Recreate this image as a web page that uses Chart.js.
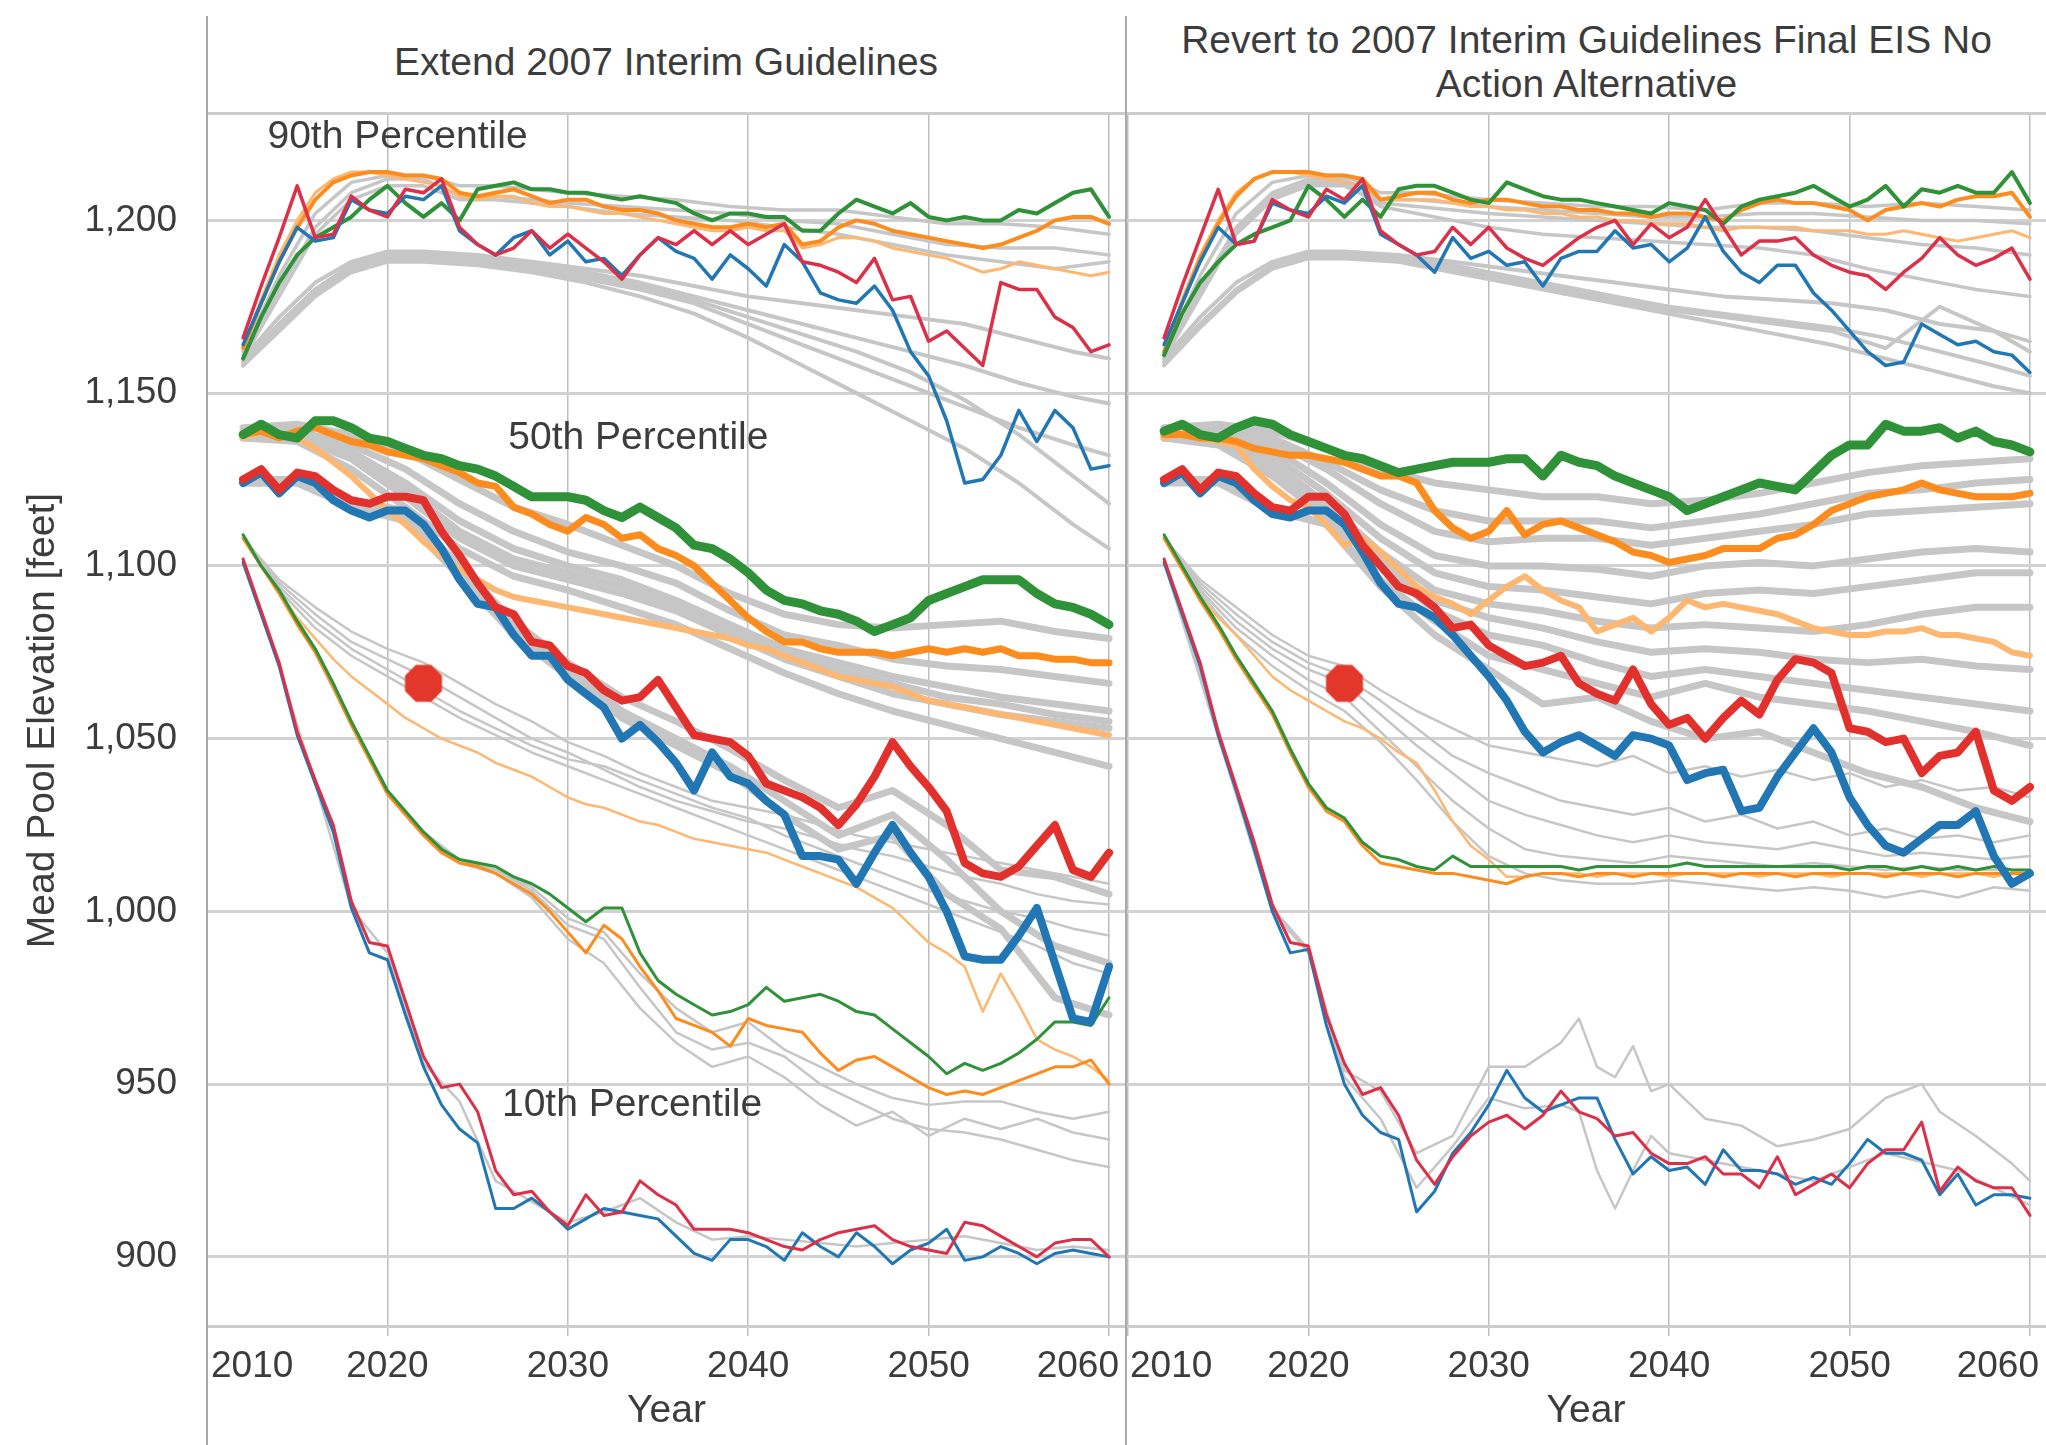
<!DOCTYPE html>
<html>
<head>
<meta charset="utf-8">
<title>Mead Pool Elevation</title>
<script src="https://cdn.jsdelivr.net/npm/chart.js@4.4.1/dist/chart.umd.min.js"></script>
<style>
    body { margin: 0; background: #fff; font-family: "Liberation Sans", Arial, Helvetica, sans-serif; }
    #wrap { position: relative; width: 2046px; height: 1445px; overflow: hidden; background: #fff; }
    canvas { position: absolute; }
    .vline { position: absolute; top: 16px; bottom: 0; width: 2px; background: #a9a9a9; }
    .hline { position: absolute; height: 3px; background: #cdcdcd; }
    .head { position: absolute; top: 12px; height: 100px; display: flex; align-items: center; justify-content: center;
            text-align: center; font-size: 39px; line-height: 44px; color: #3c3c3c; }
</style>
</head>
<body>
<div id="wrap">
    <canvas id="extendChart" width="1126" height="1330" style="left:0;top:115px"></canvas>
    <canvas id="revertChart" width="920" height="1330" style="left:1126px;top:115px"></canvas>
    <div class="head" style="left:207px;width:918px">Extend 2007 Interim Guidelines</div>
    <div class="head" style="left:1127px;width:919px">Revert to 2007 Interim Guidelines Final EIS No<br>Action Alternative</div>
    <div class="hline" style="left:206px;right:0;top:112px"></div>
    <div class="vline" style="left:206px"></div>
    <div class="vline" style="left:1125px"></div>
</div>

<script>
// ---------- axes ----------
const xTicks = [2010, 2020, 2030, 2040, 2050, 2060];
const yTicks = [900, 950, 1000, 1050, 1100, 1150, 1200];

// yearly series run 2012..2060
const years = [2012, 2013, 2014, 2015, 2016, 2017, 2018, 2019, 2020, 2021,
               2022, 2023, 2024, 2025, 2026, 2027, 2028, 2029, 2030, 2031,
               2032, 2033, 2034, 2035, 2036, 2037, 2038, 2039, 2040, 2041,
               2042, 2043, 2044, 2045, 2046, 2047, 2048, 2049, 2050, 2051,
               2052, 2053, 2054, 2055, 2056, 2057, 2058, 2059, 2060];

// gray trace sample years
const grayYears90a = [2012, 2014, 2016, 2018, 2020, 2022, 2024, 2026, 2028, 2030, 2033, 2036, 2039, 2042, 2045, 2048, 2051, 2054, 2057, 2060];
const grayYears90b = [2012, 2014, 2016, 2018, 2020, 2022, 2025, 2028, 2031, 2034, 2037, 2040, 2043, 2046, 2049, 2052, 2055, 2058, 2060];
const grayYears50 = [2012, 2015, 2018, 2021, 2024, 2027, 2030, 2033, 2036, 2039, 2042, 2045, 2048, 2051, 2054, 2057, 2060];
const grayYears10 = [2012, 2014, 2016, 2018, 2020, 2022, 2024, 2026, 2028, 2030, 2032, 2034, 2036, 2038, 2040, 2042, 2044, 2046, 2048, 2050, 2052, 2054, 2056, 2058, 2060];
const grayYearsLowA = [2012, 2016, 2018, 2020, 2022, 2024, 2026, 2028, 2030, 2032, 2034, 2035, 2036, 2037, 2038, 2039, 2040, 2042, 2044, 2046, 2048, 2050, 2052, 2054, 2055, 2057, 2059, 2060];
const grayYearsLowB = [2012, 2018, 2020, 2022, 2024, 2026, 2028, 2030, 2032, 2034, 2035, 2036, 2037, 2038, 2039, 2040, 2044, 2048, 2052, 2056, 2060];

// marker (both panels)
const markerYear = [2022];
const markerValue = [1066];

// ---------- Extend 2007 Interim Guidelines ----------
const ext90Green = [1160,1172,1182,1190,1195,1198,1201,1206,1210,1205, 1201,1205,1200,1209,1210,1211,1209,1209,1208,1208,
                    1207,1206,1207,1206,1205,1202,1200,1202,1202,1201, 1201,1197,1197,1202,1206,1204,1202,1205,1201,1200,
                    1201,1200,1200,1203,1202,1205,1208,1209,1201];
const ext90Orange = [1163,1176,1188,1198,1206,1211,1213,1214,1214,1213, 1213,1212,1208,1207,1208,1209,1207,1205,1206,1206,
                     1204,1203,1203,1202,1200,1199,1198,1198,1199,1198, 1199,1193,1194,1198,1200,1199,1197,1196,1195,1194,
                     1193,1192,1193,1195,1197,1200,1201,1201,1199];
const ext90LtOrange = [1163,1177,1190,1200,1208,1212,1214,1214,1213,1212, 1211,1210,1207,1206,1207,1207,1205,1204,1204,1203,
                       1202,1202,1201,1200,1199,1198,1197,1197,1198,1197, 1197,1192,1193,1195,1195,1194,1192,1191,1190,1189,
                       1187,1185,1186,1188,1187,1186,1185,1184,1185];
const ext90Red = [1166,1181,1195,1210,1195,1196,1207,1203,1201,1209, 1208,1212,1198,1193,1190,1192,1197,1192,1196,1192,
                  1188,1183,1190,1195,1193,1197,1193,1197,1193,1196, 1199,1188,1187,1185,1182,1189,1177,1178,1165,1168,
                  1163,1158,1182,1180,1180,1172,1169,1162,1164];
const ext90Blue = [1164,1176,1188,1198,1194,1195,1206,1203,1202,1207, 1206,1210,1197,1193,1190,1195,1197,1190,1194,1188,
                   1189,1184,1190,1195,1191,1189,1183,1190,1186,1181, 1193,1188,1179,1177,1176,1181,1174,1162,1155,1142,
                   1124,1125,1132,1145,1136,1145,1140,1128,1129];

const ext50Green = [1138,1141,1138,1137,1142,1142,1140,1137,1136,1134, 1132,1131,1129,1128,1126,1123,1120,1120,1120,1119,
                    1116,1114,1117,1114,1111,1106,1105,1102,1098,1093, 1090,1089,1087,1086,1084,1081,1083,1085,1090,1092,
                    1094,1096,1096,1096,1092,1089,1088,1086,1083];
const ext50Orange = [1138,1139,1137,1139,1140,1138,1136,1135,1133,1132, 1131,1129,1127,1124,1123,1117,1115,1112,1110,1114,
                     1112,1108,1109,1105,1103,1100,1095,1090,1085,1081, 1078,1078,1076,1075,1075,1075,1074,1075,1076,1075,
                     1076,1075,1076,1074,1074,1073,1073,1072,1072];
const ext50LtOrange = [1137,1139,1138,1137,1134,1130,1126,1121,1116,1112, 1107,1103,1099,1096,1093,1091,1090,1089,1088,1087,
                       1086,1085,1084,1083,1082,1081,1080,1079,1077,1076, 1074,1072,1070,1068,1067,1066,1065,1063,1061,1060,
                       1059,1058,1057,1056,1055,1054,1053,1052,1051];
const ext50Red = [1125,1128,1122,1127,1126,1122,1119,1118,1120,1120, 1119,1110,1103,1095,1088,1086,1078,1077,1071,1069,
                  1064,1061,1062,1067,1059,1051,1050,1049,1045,1037, 1035,1033,1030,1025,1031,1039,1049,1042,1036,1029,
                  1014,1011,1010,1013,1019,1025,1012,1010,1017];
const ext50Blue = [1124,1127,1121,1126,1124,1119,1116,1114,1116,1116, 1112,1105,1096,1089,1088,1080,1074,1074,1067,1063,
                   1059,1050,1054,1049,1043,1035,1046,1039,1037,1032, 1028,1016,1016,1015,1008,1017,1025,1017,1010,1000,
                   987,986,986,993,1001,985,969,968,984];

const ext10Green = [1109,1100,1093,1084,1076,1066,1055,1045,1035,1029, 1023,1018,1015,1014,1013,1010,1008,1005,1001,997,
                    1001,1001,988,980,976,973,970,971,973,978, 974,975,976,974,971,970,966,962,958,953,
                    956,954,956,959,963,968,968,967,975];
const ext10Orange = [1108,1100,1092,1083,1075,1065,1054,1044,1034,1028, 1022,1017,1014,1013,1011,1008,1005,1000,994,988,
                     996,992,984,977,969,967,965,961,969,967, 966,965,959,954,957,958,955,952,949,947,
                     948,947,949,951,953,955,955,957,950];
const ext10LtOrange = [1108,1100,1092,1085,1079,1073,1068,1064,1060,1056, 1053,1050,1048,1046,1043,1041,1039,1036,1033,1031,
                       1030,1028,1026,1025,1023,1021,1020,1019,1018,1017, 1015,1013,1011,1009,1007,1004,1001,996,991,988,
                       984,971,982,973,963,960,958,955,951];
const ext10Red = [1102,1087,1072,1052,1038,1025,1003,991,990,974, 958,949,950,942,925,918,919,913,909,918,
                  912,913,922,918,915,908,908,908,907,905, 903,902,905,907,908,909,905,903,902,901,
                  910,909,906,903,900,904,905,905,900];
const ext10Blue = [1101,1086,1071,1051,1037,1023,1001,988,986,970, 955,944,937,933,914,914,917,913,908,911,
                   914,913,912,911,906,901,899,905,905,903, 899,907,903,900,907,903,898,902,904,908,
                   899,900,903,901,898,901,902,901,900];

const extGray90a = [
    [1162,1184,1202,1211,1213,1213,1210,1210,1209,1208,1207,1206,1204,1203,1203,1201,1199,1199,1198,1196],
    [1161,1180,1198,1208,1212,1212,1207,1207,1206,1205,1204,1203,1202,1200,1199,1196,1193,1192,1192,1190],
    [1160,1178,1196,1206,1210,1210,1206,1206,1205,1204,1202,1201,1200,1198,1196,1193,1190,1188,1186,1188]
];
const extGray90b = [
    [1160,1172,1182,1188,1191,1191,1190,1188,1186,1184,1181,1178,1176,1174,1172,1170,1166,1162,1160],
    [1159,1170,1180,1187,1190,1190,1189,1187,1185,1182,1178,1174,1170,1166,1162,1158,1153,1149,1147],
    [1158,1169,1179,1186,1189,1189,1188,1186,1183,1180,1176,1170,1164,1158,1152,1146,1140,1135,1132],
    [1158,1168,1178,1185,1188,1188,1187,1185,1182,1178,1173,1166,1158,1150,1142,1134,1124,1112,1105],
    [1159,1170,1180,1187,1190,1190,1189,1187,1184,1181,1177,1172,1167,1162,1156,1148,1138,1126,1118]
];
const extGray50 = [
    [1140,1141,1138,1133,1125,1117,1112,1106,1100,1092,1086,1083,1082,1083,1084,1081,1079],
    [1139,1139,1135,1128,1118,1110,1104,1100,1095,1087,1080,1077,1073,1071,1070,1068,1066],
    [1138,1138,1133,1124,1113,1105,1100,1096,1090,1083,1076,1072,1068,1065,1062,1060,1058],
    [1138,1138,1132,1122,1110,1102,1098,1094,1089,1082,1075,1070,1066,1062,1060,1057,1055],
    [1137,1137,1131,1120,1108,1100,1096,1092,1087,1080,1073,1068,1063,1060,1057,1055,1053],
    [1137,1136,1128,1117,1105,1097,1093,1088,1083,1076,1069,1063,1058,1054,1050,1046,1042],
    [1125,1125,1119,1116,1100,1084,1072,1062,1055,1047,1038,1030,1035,1025,1012,1010,1005],
    [1124,1124,1118,1114,1098,1082,1070,1058,1050,1042,1032,1022,1028,1015,1000,990,985],
    [1124,1124,1117,1113,1097,1080,1068,1056,1048,1040,1028,1018,1022,1005,995,975,970]
];
const extGray10 = [
    [1108,1096,1088,1081,1076,1072,1066,1060,1055,1049,1045,1040,1036,1032,1030,1028,1025,1022,1020,1018,1016,1014,1012,1010,1008],
    [1108,1095,1086,1078,1073,1068,1062,1056,1050,1046,1041,1036,1032,1029,1026,1024,1021,1018,1016,1013,1010,1008,1005,1003,1002],
    [1108,1094,1084,1076,1070,1064,1058,1053,1048,1044,1042,1038,1034,1030,1027,1022,1018,1014,1010,1006,1003,1000,998,995,993],
    [1108,1093,1082,1074,1068,1062,1056,1051,1046,1042,1038,1034,1030,1026,1022,1018,1014,1010,1006,1002,998,994,990,985,982],
    [1109,1093,1076,1055,1035,1023,1015,1012,1006,996,992,978,965,960,962,958,950,945,940,937,936,934,931,928,926],
    [1108,1092,1075,1054,1034,1022,1014,1011,1004,992,985,972,962,955,958,952,944,938,942,935,940,937,940,936,934],
    [1108,1092,1075,1054,1034,1022,1015,1012,1007,998,994,982,972,965,968,960,955,950,946,944,945,945,942,940,942],
    [1101,1071,1037,1001,988,956,945,922,916,910,913,917,910,905,906,905,904,903,904,905,906,904,902,903,902]
];

// ---------- Revert to 2007 Interim Guidelines Final EIS No Action ----------
const rev90Green = [1161,1173,1182,1188,1193,1196,1198,1200,1210,1206, 1201,1206,1201,1209,1210,1210,1208,1206,1205,1211,
                    1209,1207,1206,1206,1205,1204,1203,1202,1205,1204, 1203,1199,1204,1206,1207,1208,1210,1207,1204,1206,
                    1210,1204,1209,1208,1210,1208,1208,1214,1205];
const rev90Orange = [1162,1176,1189,1199,1207,1212,1214,1214,1214,1213, 1213,1212,1206,1207,1208,1208,1206,1205,1206,1206,
                     1205,1204,1204,1203,1203,1202,1202,1201,1202,1202, 1201,1200,1203,1205,1206,1205,1205,1204,1203,1200,
                     1203,1204,1205,1204,1206,1207,1207,1208,1201];
const rev90LtOrange = [1162,1177,1190,1200,1208,1212,1214,1214,1213,1212, 1211,1210,1206,1206,1206,1206,1205,1204,1204,1203,
                       1203,1202,1202,1201,1201,1200,1200,1199,1199,1199, 1198,1197,1198,1198,1198,1198,1197,1197,1197,1196,
                       1196,1197,1196,1195,1194,1195,1196,1197,1195];
const rev90Red = [1166,1181,1195,1209,1193,1194,1206,1203,1201,1209, 1206,1212,1197,1193,1190,1191,1198,1193,1198,1192,
                  1189,1187,1191,1195,1198,1200,1193,1199,1195,1198, 1206,1198,1190,1194,1194,1195,1190,1187,1185,1184,
                  1180,1185,1189,1195,1190,1187,1189,1192,1183];
const rev90Blue = [1164,1176,1188,1198,1193,1194,1205,1203,1202,1207, 1205,1210,1196,1193,1190,1185,1195,1189,1191,1187,
                   1188,1181,1189,1191,1191,1197,1192,1193,1188,1192, 1201,1191,1185,1182,1187,1187,1179,1174,1168,1162,
                   1158,1159,1170,1167,1164,1165,1162,1161,1156];

const rev50Green = [1139,1141,1138,1137,1140,1142,1141,1138,1136,1134, 1132,1131,1129,1127,1128,1129,1130,1130,1130,1131,
                    1131,1126,1132,1130,1129,1126,1124,1122,1120,1116, 1118,1120,1122,1124,1123,1122,1127,1132,1135,1135,
                    1141,1139,1139,1140,1137,1139,1136,1135,1133];
const rev50Orange = [1138,1138,1137,1137,1136,1134,1133,1132,1132,1131, 1130,1128,1126,1126,1124,1116,1111,1108,1110,1116,
                     1109,1112,1113,1111,1109,1107,1104,1103,1101,1102, 1103,1105,1105,1105,1108,1109,1112,1116,1118,1120,
                     1121,1122,1124,1122,1121,1120,1120,1120,1121];
const rev50LtOrange = [1137,1139,1137,1136,1135,1128,1123,1119,1117,1112, 1106,1108,1104,1099,1094,1091,1089,1086,1090,1094,
                       1097,1093,1090,1088,1081,1083,1085,1081,1085,1090, 1088,1089,1088,1087,1086,1084,1082,1081,1080,1080,
                       1081,1081,1082,1080,1080,1079,1078,1075,1074];
const rev50Red = [1125,1128,1122,1127,1126,1121,1117,1116,1120,1120, 1115,1106,1100,1094,1092,1088,1082,1083,1077,1074,
                  1071,1072,1074,1066,1063,1061,1070,1060,1054,1056, 1050,1056,1061,1057,1067,1073,1072,1069,1053,1052,
                  1049,1050,1040,1045,1046,1052,1035,1032,1036];
const rev50Blue = [1124,1127,1121,1126,1124,1119,1115,1114,1116,1116, 1112,1104,1095,1089,1088,1085,1080,1074,1068,1061,
                   1052,1046,1049,1051,1048,1045,1051,1050,1048,1038, 1040,1041,1029,1030,1039,1046,1053,1046,1033,1025,
                   1019,1017,1021,1025,1025,1029,1016,1008,1011];

const rev10Green = [1109,1100,1091,1083,1074,1066,1058,1047,1037,1030, 1027,1020,1016,1015,1013,1012,1016,1013,1013,1013,
                    1013,1013,1013,1012,1013,1013,1013,1013,1013,1014, 1013,1013,1013,1013,1013,1013,1013,1013,1012,1013,
                    1013,1012,1013,1012,1013,1012,1013,1012,1012];
const rev10Orange = [1108,1099,1090,1082,1073,1065,1057,1046,1036,1029, 1026,1019,1014,1013,1012,1011,1011,1010,1009,1008,
                     1010,1011,1011,1010,1011,1011,1010,1011,1011,1011, 1011,1010,1011,1011,1011,1010,1011,1011,1011,1011,
                     1010,1011,1011,1011,1010,1011,1011,1011,1011];
const rev10LtOrange = [1108,1099,1091,1085,1080,1074,1068,1064,1061,1058, 1055,1053,1050,1046,1043,1035,1026,1019,1015,1010,
                       1010,1011,1011,1011,1010,1011,1011,1011,1010,1011, 1011,1011,1011,1010,1011,1011,1011,1010,1011,1011,
                       1011,1011,1010,1011,1011,1011,1010,1011,1010];
const rev10Red = [1102,1087,1072,1052,1036,1020,1002,991,990,970, 956,947,949,941,928,921,929,935,939,941,
                  937,941,948,942,940,935,936,930,927,927, 929,924,924,920,929,918,921,924,920,927,
                  931,931,939,919,926,922,920,920,912];
const rev10Blue = [1101,1086,1071,1051,1035,1018,1000,988,989,967, 950,941,936,934,913,919,930,936,944,954,
                   946,942,944,946,946,934,924,929,925,926, 921,931,925,925,924,921,923,921,927,934,
                   930,930,928,918,924,915,918,918,917];

const revGray90a = [
    [1162,1184,1202,1211,1213,1213,1208,1208,1207,1206,1205,1204,1204,1203,1205,1205,1204,1205,1204,1203],
    [1161,1180,1198,1208,1212,1212,1206,1206,1205,1204,1203,1202,1201,1201,1202,1202,1201,1200,1200,1199],
    [1160,1178,1196,1206,1210,1210,1205,1204,1203,1202,1201,1200,1199,1198,1198,1197,1195,1193,1192,1190],
    [1161,1179,1197,1207,1211,1211,1204,1202,1200,1198,1196,1195,1194,1193,1192,1190,1186,1183,1180,1178]
];
const revGray90b = [
    [1160,1172,1182,1188,1191,1191,1190,1188,1186,1184,1182,1180,1178,1177,1176,1174,1170,1168,1165],
    [1159,1170,1180,1187,1190,1190,1189,1187,1184,1181,1178,1175,1173,1171,1169,1166,1162,1158,1155],
    [1158,1169,1179,1186,1189,1189,1188,1185,1182,1179,1176,1173,1170,1167,1164,1160,1156,1152,1150],
    [1159,1170,1180,1187,1190,1190,1189,1186,1183,1180,1177,1174,1172,1170,1168,1163,1175,1168,1162]
];
const revGray50 = [
    [1140,1141,1139,1134,1128,1124,1122,1120,1120,1118,1119,1121,1124,1127,1129,1130,1131],
    [1139,1140,1137,1130,1122,1116,1113,1113,1113,1111,1113,1115,1118,1121,1122,1124,1125],
    [1139,1139,1136,1128,1118,1110,1107,1108,1108,1106,1108,1110,1112,1115,1116,1117,1118],
    [1138,1138,1134,1124,1112,1103,1100,1100,1099,1097,1100,1101,1100,1102,1104,1105,1104],
    [1138,1137,1132,1121,1108,1098,1094,1093,1091,1089,1092,1093,1092,1094,1096,1098,1098],
    [1137,1136,1130,1118,1104,1093,1089,1087,1084,1082,1083,1082,1081,1083,1086,1088,1088],
    [1137,1136,1128,1116,1102,1090,1085,1082,1078,1075,1076,1075,1073,1072,1073,1071,1070],
    [1137,1135,1126,1114,1100,1087,1080,1077,1072,1068,1070,1068,1066,1064,1062,1060,1058],
    [1125,1125,1117,1112,1096,1084,1074,1070,1066,1062,1066,1062,1060,1058,1055,1052,1048],
    [1124,1124,1116,1112,1094,1080,1070,1060,1062,1055,1050,1052,1046,1040,1036,1030,1026]
];
const revGray10 = [
    [1108,1095,1086,1078,1072,1068,1061,1053,1045,1040,1036,1032,1030,1028,1030,1026,1028,1024,1026,1022,1024,1021,1022,1020,1022],
    [1108,1094,1084,1076,1070,1066,1057,1048,1040,1032,1028,1025,1022,1020,1022,1020,1019,1018,1020,1018,1016,1017,1016,1015,1016],
    [1108,1093,1082,1074,1067,1062,1052,1042,1032,1024,1018,1016,1015,1014,1016,1015,1014,1013,1014,1013,1012,1013,1012,1012,1012],
    [1108,1092,1080,1071,1064,1058,1049,1038,1026,1016,1011,1009,1008,1008,1009,1008,1007,1006,1007,1006,1004,1006,1004,1007,1006],
    [1108,1096,1088,1080,1074,1071,1064,1058,1053,1048,1046,1044,1042,1045,1040,1042,1039,1041,1038,1040,1036,1038,1035,1036,1033]
];
const revGrayLowA = [1102,1036,1001,989,954,948,930,935,955,955,962,969,955,952,961,948,950,940,938,932,934,937,946,950,942,935,927,922];
const revGrayLowB = [1101,1000,988,952,940,920,932,946,943,944,942,925,914,925,935,930,926,922,930,925,915];

// ---------- styling ----------
const FONT = '"Liberation Sans", Arial, Helvetica, sans-serif';
const TEXT = '#3c3c3c';
const colors = {
    green: '#2f9138',
    orange: '#fd8c1e',
    ltOrange: '#fdb770',
    red: '#e2302d',
    redThin: '#dc2f48',
    blue: '#2176b4',
    gray: '#c6c6c6'
};

Chart.defaults.font.family = FONT;
Chart.defaults.color = TEXT;

function series(xs, ys, color, width, order) {
    return {
        data: xs.map((x, i) => ({ x: x, y: ys[i] })),
        borderColor: color,
        backgroundColor: color,
        borderWidth: width,
        pointRadius: 0,
        tension: 0,
        fill: false,
        order: order,
        borderJoinStyle: 'round',
        borderCapStyle: 'round'
    };
}

function grayGroup(xs, rows, width) {
    return rows.map(r => series(xs, r, colors.gray, width, 20));
}

// red octagon marker
function makeOctagon(r, color) {
    const c = document.createElement('canvas');
    c.width = c.height = 2 * r;
    const g = c.getContext('2d');
    g.fillStyle = color;
    g.beginPath();
    for (let k = 0; k < 8; k++) {
        const a = Math.PI / 8 + k * Math.PI / 4;
        const px = r + r * Math.cos(a), py = r + r * Math.sin(a);
        if (k === 0) g.moveTo(px, py); else g.lineTo(px, py);
    }
    g.closePath();
    g.fill();
    return c;
}
const octagon = makeOctagon(20, '#e3372b');

function markerSet() {
    return {
        data: markerYear.map((x, i) => ({ x: x, y: markerValue[i] })),
        showLine: false,
        pointStyle: octagon,
        pointRadius: 20,
        order: -1
    };
}

// x tick labels kept inside their pane
const paneTickLabels = {
    id: 'paneTickLabels',
    afterDraw(chart) {
        const sx = chart.scales.x, area = chart.chartArea, ctx = chart.ctx;
        ctx.save();
        ctx.font = '37px ' + FONT;
        ctx.fillStyle = TEXT;
        ctx.textBaseline = 'middle';
        ctx.textAlign = 'left';
        sx.ticks.forEach(t => {
            const txt = String(t.value);
            const w = ctx.measureText(txt).width;
            let x = sx.getPixelForValue(t.value) - w / 2;
            x = Math.max(area.left + 4, Math.min(x, chart.width - 7 - w));
            ctx.fillText(txt, x, area.bottom + 41);
        });
        ctx.restore();
    }
};

// in-plot text labels
const bandLabels = {
    id: 'bandLabels',
    afterDatasetsDraw(chart, args, opts) {
        if (!opts.items) return;
        const ctx = chart.ctx;
        ctx.save();
        ctx.font = '39px ' + FONT;
        ctx.fillStyle = TEXT;
        ctx.textBaseline = 'middle';
        ctx.textAlign = 'left';
        opts.items.forEach(it => {
            ctx.fillText(it.text, chart.scales.x.getPixelForValue(it.x), chart.scales.y.getPixelForValue(it.y));
        });
        ctx.restore();
    }
};

function buildPanel(id, sets, xMin, xMax, withYAxis, labels) {
    const ctx = document.getElementById(id).getContext('2d');
    return new Chart(ctx, {
        type: 'line',
        data: { datasets: sets },
        options: {
            responsive: false,
            animation: false,
            devicePixelRatio: 1,
            layout: { padding: 0, autoPadding: false },
            plugins: {
                legend: { display: false },
                tooltip: { enabled: false },
                bandLabels: { items: labels }
            },
            scales: {
                x: {
                    type: 'linear',
                    min: xMin,
                    max: xMax,
                    afterBuildTicks: s => { s.ticks = xTicks.map(v => ({ value: v })); },
                    afterFit: s => { s.height = 119; s.paddingLeft = 0; s.paddingRight = 0; },
                    ticks: { display: false },
                    grid: { color: '#bdbdbd', lineWidth: 1.5, drawTicks: true, tickLength: 10, tickColor: '#bdbdbd' },
                    border: { display: true, color: '#cdcdcd', width: 3 },
                    title: { display: true, text: 'Year', font: { size: 39 }, color: TEXT, padding: { top: 0, bottom: 10 } }
                },
                y: {
                    type: 'linear',
                    min: 880,
                    max: 1230.5,
                    afterBuildTicks: s => { s.ticks = yTicks.map(v => ({ value: v })); },
                    afterFit: s => { s.width = withYAxis ? 207 : 0; s.paddingTop = 0; s.paddingBottom = 0; },
                    ticks: {
                        display: withYAxis,
                        padding: 30,
                        font: { size: 37 },
                        color: TEXT,
                        callback: v => v.toLocaleString('en-US')
                    },
                    grid: { color: '#d2d2d2', lineWidth: 3, drawTicks: false },
                    border: { display: false },
                    title: {
                        display: withYAxis,
                        text: 'Mead Pool Elevation [feet]',
                        font: { size: 39 },
                        color: TEXT,
                        padding: { top: 20, bottom: 0 }
                    }
                }
            }
        },
        plugins: [paneTickLabels, bandLabels]
    });
}

function panelSets(p) {
    return [].concat(
        grayGroup(grayYears90a, p.gray90a, 3.5),
        grayGroup(grayYears90b, p.gray90b, 4),
        grayGroup(grayYears50, p.gray50, 7),
        grayGroup(grayYears10, p.gray10, 2.5),
        p.extraGray,
        [
            series(years, p.g90, colors.green, 4, 4),
            series(years, p.o90, colors.orange, 4, 5),
            series(years, p.l90, colors.ltOrange, 3, 6),
            series(years, p.b90, colors.blue, 3.5, 3),
            series(years, p.r90, colors.redThin, 3.5, 2),

            series(years, p.l50, colors.ltOrange, 6, 6),
            series(years, p.o50, colors.orange, 7, 5),
            series(years, p.g50, colors.green, 9, 4),
            series(years, p.b50, colors.blue, 8, 3),
            series(years, p.r50, colors.red, 8, 2),

            series(years, p.l10, colors.ltOrange, 2.5, 6),
            series(years, p.o10, colors.orange, 3, 5),
            series(years, p.g10, colors.green, 3, 4),
            series(years, p.b10, colors.blue, 3, 3),
            series(years, p.r10, colors.redThin, 3, 2),

            markerSet()
        ]
    );
}

buildPanel('extendChart', panelSets({
    gray90a: extGray90a, gray90b: extGray90b, gray50: extGray50, gray10: extGray10, extraGray: [],
    g90: ext90Green, o90: ext90Orange, l90: ext90LtOrange, r90: ext90Red, b90: ext90Blue,
    g50: ext50Green, o50: ext50Orange, l50: ext50LtOrange, r50: ext50Red, b50: ext50Blue,
    g10: ext10Green, o10: ext10Orange, l10: ext10LtOrange, r10: ext10Red, b10: ext10Blue
}), 2010, 2060.94, true, [
    { text: '90th Percentile', x: 2013.35, y: 1224 },
    { text: '50th Percentile', x: 2026.7, y: 1137 },
    { text: '10th Percentile', x: 2026.35, y: 944 }
]);

buildPanel('revertChart', panelSets({
    gray90a: revGray90a, gray90b: revGray90b, gray50: revGray50, gray10: revGray10,
    extraGray: [
        series(grayYearsLowA, revGrayLowA, colors.gray, 2.5, 20),
        series(grayYearsLowB, revGrayLowB, colors.gray, 2.5, 20)
    ],
    g90: rev90Green, o90: rev90Orange, l90: rev90LtOrange, r90: rev90Red, b90: rev90Blue,
    g50: rev50Green, o50: rev50Orange, l50: rev50LtOrange, r50: rev50Red, b50: rev50Blue,
    g10: rev10Green, o10: rev10Orange, l10: rev10LtOrange, r10: rev10Red, b10: rev10Blue
}), 2009.89, 2060.89, false, []);
</script>
</body>
</html>
